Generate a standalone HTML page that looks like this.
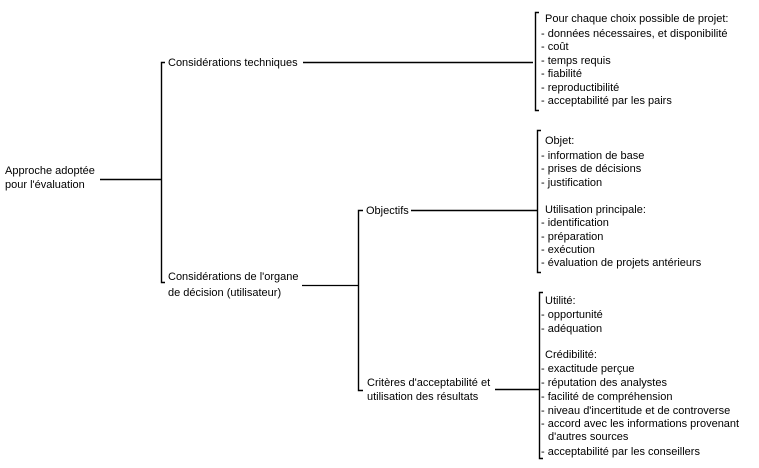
<!DOCTYPE html>
<html><head><meta charset="utf-8"><style>
html,body{margin:0;padding:0;background:#fff;}
svg{display:block;}
text{font-family:"Liberation Sans",sans-serif;font-size:11px;fill:#000;}
</style></head><body>
<svg width="759" height="468" viewBox="0 0 759 468" xmlns="http://www.w3.org/2000/svg">
<g stroke="#000" fill="none">
<path d="M100 179.5H161" stroke-width="1.6"/>
<path d="M165 62.5H161.5V282.5H165" stroke-width="1.4"/>
<path d="M303 62.5H533" stroke-width="1.4"/>
<path d="M539 12.5H535.5V110.5H539" stroke-width="1.4"/>
<path d="M302 285.5H358" stroke-width="1.2"/>
<path d="M363 210.5H358.5V390.5H363" stroke-width="1.4"/>
<path d="M411 210.5H537" stroke-width="1.4"/>
<path d="M541 130.5H537.5V272.5H541" stroke-width="1.4"/>
<path d="M495 389.5H539" stroke-width="1.6"/>
<path d="M543 292.5H539.5V458.5H543" stroke-width="1.4"/>
</g>
<text x="5" y="174">Approche adoptée</text>
<text x="5" y="188">pour l'évaluation</text>
<text x="168" y="66">Considérations techniques</text>
<text x="168" y="280">Considérations de l'organe</text>
<text x="168" y="296">de décision (utilisateur)</text>
<text x="366" y="214">Objectifs</text>
<text x="367" y="386">Critères d'acceptabilité et</text>
<text x="367" y="400">utilisation des résultats</text>
<g>
<text x="545" y="22">Pour chaque choix possible de projet:</text>
<text x="541" y="37">- données nécessaires, et disponibilité</text>
<text x="541" y="50">- coût</text>
<text x="541" y="64">- temps requis</text>
<text x="541" y="77">- fiabilité</text>
<text x="541" y="91">- reproductibilité</text>
<text x="541" y="104">- acceptabilité par les pairs</text>
</g>
<g>
<text x="545" y="144">Objet:</text>
<text x="541" y="159">- information de base</text>
<text x="541" y="172">- prises de décisions</text>
<text x="541" y="186">- justification</text>
<text x="545" y="213">Utilisation principale:</text>
<text x="541" y="226">- identification</text>
<text x="541" y="240">- préparation</text>
<text x="541" y="253">- exécution</text>
<text x="541" y="266">- évaluation de projets antérieurs</text>
</g>
<g>
<text x="545" y="304">Utilité:</text>
<text x="541" y="318">- opportunité</text>
<text x="541" y="332">- adéquation</text>
<text x="545" y="358">Crédibilité:</text>
<text x="541" y="372">- exactitude perçue</text>
<text x="541" y="386">- réputation des analystes</text>
<text x="541" y="400">- facilité de compréhension</text>
<text x="541" y="414">- niveau d'incertitude et de controverse</text>
<text x="541" y="427">- accord avec les informations provenant</text>
<text x="548" y="440">d'autres sources</text>
<text x="541" y="455">- acceptabilité par les conseillers</text>
</g>
</svg>
</body></html>
